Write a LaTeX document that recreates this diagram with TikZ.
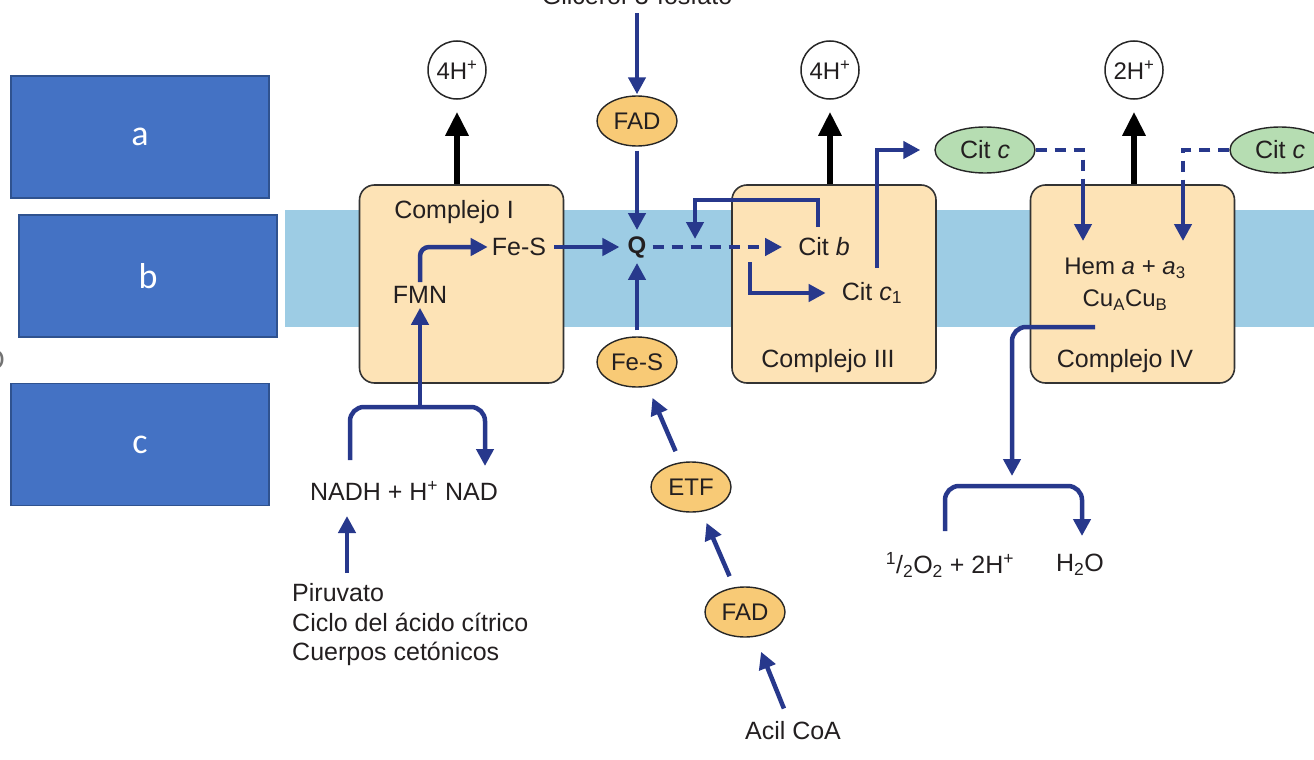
\documentclass[tikz,border=0pt]{standalone}
\usepackage{fontspec}
\setmainfont{Liberation Sans}
\newfontfamily\labelfont{Carlito}
\usetikzlibrary{arrows.meta,shapes.geometric,calc}
\definecolor{navy}{HTML}{27388C}
\definecolor{boxfill}{HTML}{FDE3B6}
\definecolor{ellfill}{HTML}{F8CA76}
\definecolor{citfill}{HTML}{B6DDB2}
\definecolor{memb}{HTML}{9DCCE4}
\definecolor{lblue}{HTML}{4472C4}
\definecolor{lborder}{HTML}{2F528F}
\definecolor{txt}{HTML}{231F20}
\begin{document}
\begin{tikzpicture}[x=1pt,y=-1pt,
  font=\fontsize{25}{29}\selectfont, text=txt,
  ea/.style={navy, line width=4.5pt, -{Triangle[length=17pt,width=17pt]}},
  el/.style={navy, line width=4.5pt},
  da/.style={navy, line width=4.5pt, dash pattern=on 11pt off 8pt},
  dah/.style={da, -{Triangle[length=17pt,width=17pt]}},
  ha/.style={black, line width=6.5pt, -{Triangle[length=24pt,width=22pt]}},
  cplx/.style={draw=black!80, line width=1.6pt, fill=boxfill, rounded corners=15pt, minimum width=204pt, minimum height=198pt},
  cof/.style={ellipse, draw=black!85, line width=1.4pt, fill=ellfill, minimum width=80pt, minimum height=50pt, inner sep=0pt, font=\fontsize{24}{28}\selectfont},
  cit/.style={ellipse, draw=black!85, line width=1.4pt, fill=citfill, minimum width=100pt, minimum height=46pt, inner sep=0pt},
  hion/.style={circle, draw=black!85, line width=1.5pt, fill=white, minimum size=58pt, inner sep=0pt, font=\fontsize{24}{28}\selectfont},
  lbl/.style={draw=lborder, line width=1.2pt, fill=lblue, text=white, minimum width=258pt, minimum height=122pt, font=\labelfont\fontsize{36}{40}\selectfont},
  tx/.style={inner sep=2pt}
]
\useasboundingbox (0,0) rectangle (1314,760);
% membrane
\fill[memb] (285,210) rectangle (1314,327);

% left label boxes
\node[lbl] (la) at (140,137) {a};
\node[lbl] (lb) at (148,276) {b};
\node[lbl] (lc) at (140,444.5) {c};
\node[text=black!55, font=\fontsize{28}{30}\selectfont] (frag) at (-6,360) {O};

% complexes
\node[cplx] (c1) at (461.5,284) {};
\node[cplx] (c3) at (834,284) {};
\node[cplx] (c4) at (1132.5,284) {};
\node[tx] (c1t) at (454,212) {Complejo I};
\node[tx] (c3t) at (828,361) {Complejo III};
\node[tx] (c4t) at (1125,361) {Complejo IV};

% H+ circles
\node[hion] (h1) at (457,70) {4H\textsuperscript{+}};
\node[hion] (h3) at (830,70) {4H\textsuperscript{+}};
\node[hion] (h4) at (1134,70) {2H\textsuperscript{+}};
\draw[ha, shorten >=12pt] (h1 |- c1.north) -- (h1.south);
\draw[ha, shorten >=12pt] (h3 |- c3.north) -- (h3.south);
\draw[ha, shorten >=12pt] (h4 |- c4.north) -- (h4.south);

% top inputs
\node[tx, anchor=base] (gli) at (637,5) {Glicerol-3-fosfato};
\node[cof] (fad1) at (637,121) {FAD};
\node[tx, font=\bfseries\fontsize{24}{28}\selectfont] (q) at (637,247) {Q};
\draw[ea, shorten <=6pt, shorten >=1pt] (gli.south) -- (fad1.north);
\draw[ea, shorten <=4pt, shorten >=4pt] (fad1.south) -- (q.north);

% Complex I internals
\node[tx] (fes1) at (519,247) {Fe-S};
\node[tx] (fmn) at (420,295) {FMN};
\draw[ea, rounded corners=9pt, shorten <=2pt, shorten >=2pt] (fmn.north) |- (fes1.west);
\draw[ea, shorten <=6pt, shorten >=6pt] (fes1.east) -- (q.west);

% NADH
\node[tx] (nadh) at (404,491) {NADH + H\textsuperscript{+} NAD};
\coordinate (bL) at (350,460);
\coordinate (bT) at (420,407);
\coordinate (bR) at (485,466);
\draw[ea, rounded corners=14pt] (bL) |- (bT) -| (bR);
\draw[ea, shorten >=2pt] (bT) -- (fmn.south);
\node[tx, anchor=west, align=left, font=\fontsize{25}{29.5}\selectfont] (piru) at (290,625) {Piruvato\\Ciclo del ácido cítrico\\Cuerpos cetónicos};
\coordinate (pa) at (347,573);
\coordinate (pb) at (347,516);
\draw[ea] (pa) -- (pb);

% lower inputs to Q
\node[cof] (fes2) at (637,362) {Fe-S};
\node[cof] (etf) at (691,487) {ETF};
\node[cof] (fad2) at (745,612) {FAD};
\node[tx] (acil) at (793,731) {Acil CoA};
\draw[ea, shorten <=6pt, shorten >=3pt] (fes2.north) -- (q.south);
\draw[ea, shorten <=12pt, shorten >=12pt] (etf) -- (fes2);
\draw[ea, shorten <=12pt, shorten >=12pt] (fad2) -- (etf);
\draw[ea, shorten <=12pt, shorten >=16pt] (acil) -- (fad2);

% Complex III internals
\node[tx] (citb) at (824,247) {Cit \textit{b}};
\node[tx] (citc1) at (872,293) {Cit \textit{c}\textsubscript{1}};
\draw[dah, shorten <=4pt, shorten >=14pt] (q.east) -- (citb.west);
\coordinate (rs) at (818,227);
\coordinate (rt) at (695,200);
\coordinate (rq) at (695,239);
\draw[ea] (rs) |- (rt) -- (rq);
\coordinate (br) at (750,262);
\draw[ea, shorten >=14pt] (br) |- (citc1.west);
\coordinate (cs) at (877,268);
\node[cit] (citc) at (985,150) {Cit \textit{c}};
\draw[ea, shorten >=14pt] (cs) |- (citc.west);

% Complex IV internals
\node[tx, align=center, font=\fontsize{24}{32}\selectfont] (hem) at (1125,284) {Hem \textit{a} + \textit{a}\textsubscript{3}\\Cu\textsubscript{A}Cu\textsubscript{B}};
\node[cit] (citc2) at (1280,150) {Cit \textit{c}};
\coordinate (d1) at (1083,190);
\coordinate (d1e) at (1083,241);
\coordinate (d2) at (1183,190);
\coordinate (d2e) at (1183,241);
\draw[da] (citc.east) -| (d1);
\draw[ea] (d1) -- (d1e);
\draw[da] (citc2.west) -| (d2);
\draw[ea] (d2) -- (d2e);

% oxygen
\coordinate (o1) at (1095,327);
\coordinate (oT) at (1012,486);
\coordinate (oL) at (945,531);
\coordinate (oR) at (1082,536);
\draw[ea, rounded corners=14pt, shorten >=10pt] (o1) -| (oT);
\draw[ea, rounded corners=14pt] (oL) |- (oT) -| (oR);
\node[tx] (o2) at (950,565) {\textsuperscript{1}/\textsubscript{2}O\textsubscript{2} + 2H\textsuperscript{+}};
\node[tx] (h2o) at (1080,565) {H\textsubscript{2}O};
\end{tikzpicture}
\end{document}
